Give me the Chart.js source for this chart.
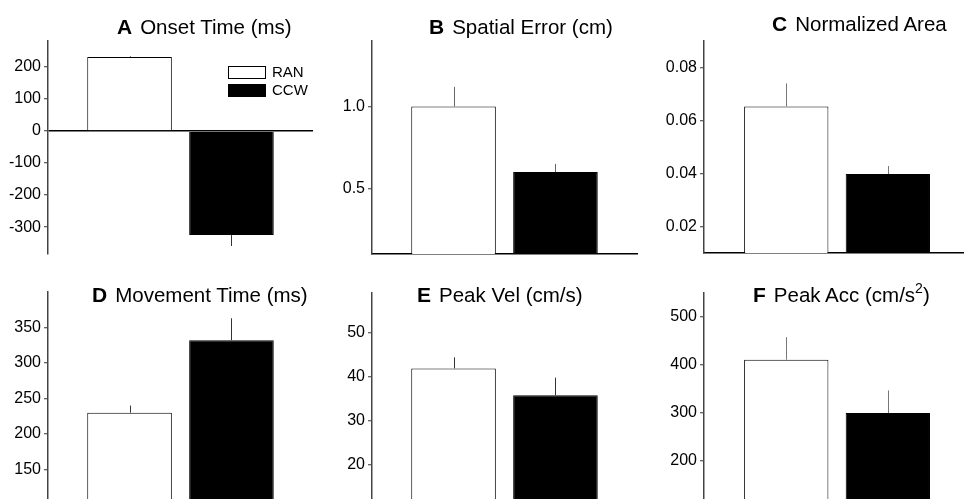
<!DOCTYPE html>
<html>
<head>
<meta charset="utf-8">
<script src="https://cdn.jsdelivr.net/npm/chart.js@4.4.0/dist/chart.umd.min.js"></script>
<style>
    html, body { margin: 0; padding: 0; background: #fff; width: 968px; height: 499px; overflow: hidden; }
    canvas { position: absolute; }
    .titulo { position: absolute; font-family: "Liberation Sans", Arial, sans-serif; font-size: 20.5px; line-height: 20px; color: #000; white-space: nowrap; }
    .titulo b { font-size: 21px; margin-right: 8px; }
    .sup { position: relative; top: -9px; font-size: 14px; }
</style>
</head>
<body>
<canvas id="panelA" width="320" height="262" style="left:0;top:0"></canvas>
<canvas id="panelB" width="322" height="262" style="left:322px;top:0"></canvas>
<canvas id="panelC" width="322" height="262" style="left:646px;top:0"></canvas>
<canvas id="panelD" width="320" height="250" style="left:0;top:262px"></canvas>
<canvas id="panelE" width="322" height="250" style="left:322px;top:262px"></canvas>
<canvas id="panelF" width="322" height="250" style="left:646px;top:262px"></canvas>

<div class="titulo" style="left:117px;top:17px"><b>A</b>Onset Time (ms)</div>
<div class="titulo" style="left:429px;top:17px"><b>B</b>Spatial Error (cm)</div>
<div class="titulo" style="left:772px;top:14px"><b>C</b>Normalized Area</div>
<div class="titulo" style="left:92px;top:285px"><b>D</b>Movement Time (ms)</div>
<div class="titulo" style="left:417px;top:285px"><b>E</b>Peak Vel (cm/s)</div>
<div class="titulo" style="left:753px;top:285px"><b>F</b>Peak Acc (cm/s<span class="sup">2</span>)</div>

<script>
// grupos y posiciones en el eje x
const grupos = ['RAN', 'CCW'];
const posiciones = [1, 2];
const colores = ['#ffffff', '#000000'];

// valores medios y error de cada panel
const onsetTime = [231, -325];
const onsetTimeErr = [2, 34];
const spatialError = [1.0, 0.6];
const spatialErrorErr = [0.12, 0.05];
const normalizedArea = [0.0653, 0.0398];
const normalizedAreaErr = [0.0087, 0.003];
const movementTime = [230, 332];
const movementTimeErr = [10, 31];
const peakVel = [41.9, 35.8];
const peakVelErr = [2.5, 4];
const peakAcc = [411, 300];
const peakAccErr = [47, 47];

// marcas del eje y
const ticksA = [-300, -200, -100, 0, 100, 200];
const ticksB = [0.5, 1.0];
const ticksC = [0.02, 0.04, 0.06, 0.08];
const ticksD = [150, 200, 250, 300, 350];
const ticksE = [20, 30, 40, 50];
const ticksF = [200, 300, 400, 500];

// limites de los ejes
const limitesA = [-384, 281];
const limitesB = [0.1, 1.4];
const limitesC = [0.01, 0.09];
const limitesD = [100, 400];
const limitesE = [10, 59];
const limitesF = [100, 550];
const limitesX = [0.2, 2.8];
const limitesXDer = [0.19, 2.74];

const fuente = '"Liberation Sans", Arial, sans-serif';

const barrasError = {
    id: 'barrasError',
    afterDatasetsDraw(chart, args, opts) {
        const { ctx } = chart;
        const escalaY = chart.scales.y;
        const meta = chart.getDatasetMeta(0);
        const datos = chart.data.datasets[0].data;
        ctx.save();
        ctx.strokeStyle = opts.color;
        ctx.lineWidth = 1;
        meta.data.forEach((barra, i) => {
            const v = datos[i].y;
            const fin = v >= 0 ? v + opts.errores[i] : v - opts.errores[i];
            const x = Math.round(barra.x) + 0.5;
            ctx.beginPath();
            ctx.moveTo(x, escalaY.getPixelForValue(v));
            ctx.lineTo(x, escalaY.getPixelForValue(fin));
            ctx.stroke();
        });
        ctx.restore();
    }
};

const leyenda = {
    id: 'leyenda',
    afterDraw(chart, args, opts) {
        if (!opts.mostrar) return;
        const { ctx, chartArea } = chart;
        const ds = chart.data.datasets[0];
        ctx.save();
        ctx.font = '15px ' + fuente;
        ctx.textBaseline = 'middle';
        chart.data.labels.forEach((etiqueta, i) => {
            const x = chartArea.left + 180;
            const y = chartArea.top + 25 + i * 18;
            ctx.fillStyle = ds.backgroundColor[i];
            ctx.fillRect(x, y, 38, 13);
            ctx.strokeStyle = '#000';
            ctx.lineWidth = 1;
            ctx.strokeRect(x + 0.5, y + 0.5, 37, 12);
            ctx.fillStyle = '#000';
            ctx.fillText(etiqueta, x + 44, y + 7);
        });
        ctx.restore();
    }
};

function crearPanel(id, valores, errores, ticks, limites, limX, decimales, area, opciones) {
    const canvas = document.getElementById(id);
    const izq = parseFloat(canvas.style.left) || 0;
    const arriba = parseFloat(canvas.style.top) || 0;
    const ejeCero = opciones.ejeCero;

    return new Chart(canvas, {
        type: 'bar',
        data: {
            labels: grupos,
            datasets: [{
                data: posiciones.map((x, i) => ({ x: x, y: valores[i] })),
                backgroundColor: colores,
                borderColor: '#000',
                borderWidth: 1,
                base: ejeCero ? 0 : limites[0],
                categoryPercentage: 1,
                barPercentage: 0.83
            }]
        },
        options: {
            responsive: false,
            animation: false,
            devicePixelRatio: 1,
            layout: {
                padding: {
                    left: 0,
                    top: area[1] - arriba,
                    right: izq + canvas.width - area[2],
                    bottom: arriba + canvas.height - area[3]
                }
            },
            scales: {
                x: {
                    type: 'linear',
                    min: limX[0],
                    max: limX[1],
                    offset: false,
                    afterBuildTicks: (s) => { s.ticks = posiciones.map(v => ({ value: v })); },
                    grid: { display: false },
                    ticks: { display: false },
                    border: { display: !ejeCero, color: '#000', width: 1.5 },
                    afterFit: (s) => { s.height = 0; s.paddingLeft = 0; s.paddingRight = 0; }
                },
                y: {
                    min: limites[0],
                    max: limites[1],
                    afterBuildTicks: (s) => { s.ticks = ticks.map(v => ({ value: v })); },
                    afterFit: (s) => { s.width = area[0] - izq; s.paddingTop = 0; s.paddingBottom = 0; },
                    grid: {
                        drawOnChartArea: ejeCero,
                        color: (c) => (ejeCero && c.tick && c.tick.value === 0) ? '#000' : 'rgba(0,0,0,0)',
                        lineWidth: 1.5,
                        tickLength: 4,
                        tickColor: '#333',
                        tickWidth: 1
                    },
                    border: { color: '#444', width: 1.5 },
                    ticks: {
                        color: '#000',
                        padding: 3,
                        font: { family: fuente, size: 16 },
                        callback: (v) => Number(v).toFixed(decimales)
                    }
                }
            },
            plugins: {
                legend: { display: false },
                tooltip: { enabled: false },
                barrasError: { errores: errores, color: opciones.colorError || '#333' },
                leyenda: { mostrar: !!opciones.leyenda }
            }
        },
        plugins: [barrasError, leyenda]
    });
}

crearPanel('panelA', onsetTime, onsetTimeErr, ticksA, limitesA, limitesX, 0, [48, 41, 313, 254], { ejeCero: true, leyenda: true });
crearPanel('panelB', spatialError, spatialErrorErr, ticksB, limitesB, limitesX, 1, [372, 41, 637, 254], { colorError: '#666' });
crearPanel('panelC', normalizedArea, normalizedAreaErr, ticksC, limitesC, limitesXDer, 2, [704, 41, 963, 253], { colorError: '#777' });
crearPanel('panelD', movementTime, movementTimeErr, ticksD, limitesD, limitesX, 0, [48, 292, 313, 505], {});
crearPanel('panelE', peakVel, peakVelErr, ticksE, limitesE, limitesX, 0, [372, 293, 637, 509], {});
crearPanel('panelF', peakAcc, peakAccErr, ticksF, limitesF, limitesXDer, 0, [704, 293, 963, 509], { colorError: '#777' });
</script>
</body>
</html>
